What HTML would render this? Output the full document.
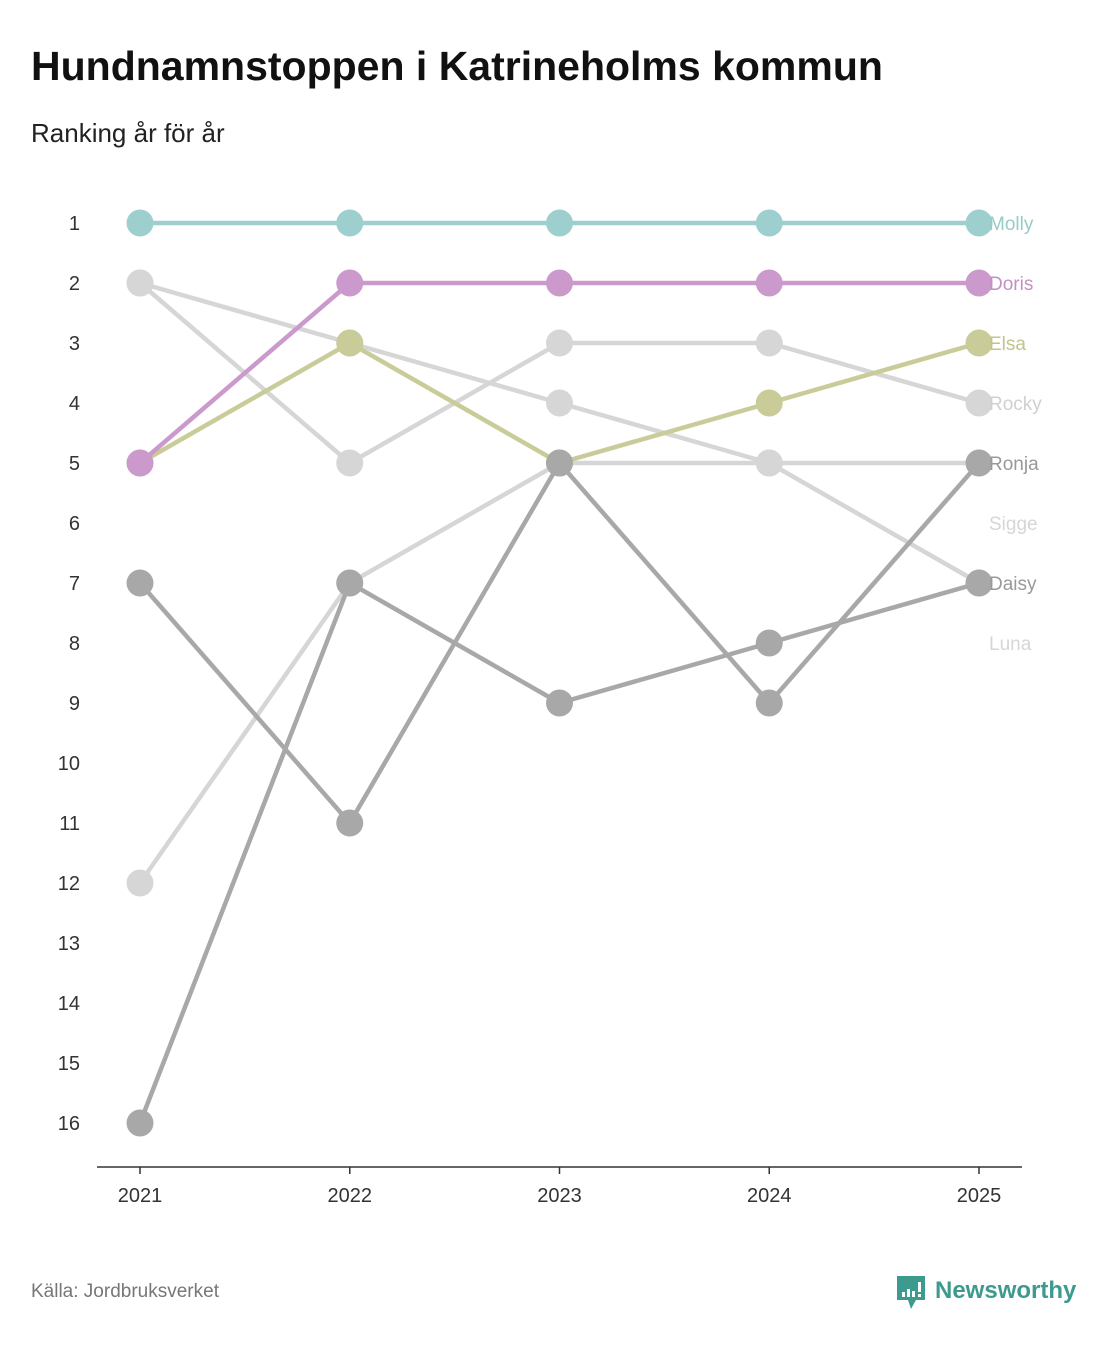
<!DOCTYPE html>
<html><head><meta charset="utf-8"><style>
body{margin:0;background:#fff;font-family:"Liberation Sans",sans-serif;}
svg text{font-family:"Liberation Sans",sans-serif;}
</style></head><body>
<svg id="chart" width="1107" height="1340">
<text x="31" y="80" font-size="41" font-weight="bold" fill="#111">Hundnamnstoppen i Katrineholms kommun</text>
<text x="31" y="142" font-size="26" fill="#222">Ranking år för år</text>
<text x="31" y="1297" font-size="19" fill="#777">Källa: Jordbruksverket</text>
<g>
<path d="M897 1276 h28 v24 h-9 l-5 9 l-3 -9 h-11 z" fill="#3d9a8f"/>
<rect x="902" y="1292" width="3" height="5" fill="#fff"/><rect x="907" y="1289" width="3" height="8" fill="#fff"/><rect x="912" y="1291" width="3" height="6" fill="#fff"/><rect x="918" y="1282" width="3" height="10" fill="#fff"/><rect x="918" y="1294" width="3" height="3" fill="#fff"/>
<text x="935" y="1298" font-size="24" font-weight="bold" fill="#3d9a8f">Newsworthy</text>
</g>
<g id="plot"></g>
</svg>
<script>
const years=["2021","2022","2023","2024","2025"];
const names=["Luna","Rocky","Sigge","Elsa","Daisy","Ronja","Doris","Molly"];
const molly=[1,1,1,1,1];
const doris=[5,2,2,2,2];
const elsa=[5,3,5,4,3];
const rocky=[2,5,3,3,4];
const ronja=[7,11,5,9,5];
const sigge=[12,7,5,5,5];
const daisy=[16,7,9,8,7];
const luna=[2,3,4,5,7];
const labelRanks=[8,4,6,3,7,5,2,1];
const rankTicks=[1,2,3,4,5,6,7,8,9,10,11,12,13,14,15,16];
const series=[luna,rocky,sigge,elsa,daisy,ronja,doris,molly];
const colors=["#d6d6d6","#d6d6d6","#d6d6d6","#c9cc99","#a8a8a8","#a8a8a8","#cc99cc","#9ccfcd"];
const labelColors=["#d6d6d6","#d0d0d0","#d6d6d6","#c2c48a","#999","#999","#c48fc4","#96cbc8"];
const xS=i=>140+i*(979-140)/(years.length-1);
const yS=r=>223+(r-1)*60;
const NS="http://www.w3.org/2000/svg";
const g=document.getElementById('plot');
function mk(t,a){const e=document.createElementNS(NS,t);for(const k in a)e.setAttribute(k,a[k]);g.appendChild(e);return e;}
rankTicks.forEach(r=>{const t=mk('text',{x:80,y:yS(r)+7,'font-size':20,'text-anchor':'end',fill:'#333'});t.textContent=r;

});
const ax=mk('line',{x1:97,x2:1022,y1:1167,y2:1167,stroke:'#333','stroke-width':1.5});


years.forEach((y,i)=>{const tk=mk('line',{x1:xS(i),x2:xS(i),y1:1167,y2:1174,stroke:'#333','stroke-width':1.5});


const t=mk('text',{x:xS(i),y:1202,'font-size':20,'text-anchor':'middle',fill:'#333'});t.textContent=y;

});
series.forEach((s,k)=>{
const p=mk('polyline',{points:s.map((r,i)=>xS(i)+','+yS(r)).join(' '),fill:'none',stroke:colors[k],'stroke-width':4.5,'stroke-linejoin':'round'});


s.forEach((r,i)=>{const c=mk('circle',{cx:xS(i),cy:yS(r),r:13.5,fill:colors[k]});

});
const t=mk('text',{x:989,y:yS(labelRanks[k])+7,'font-size':19,fill:labelColors[k]});t.textContent=names[k];


});
</script>
</body></html>
